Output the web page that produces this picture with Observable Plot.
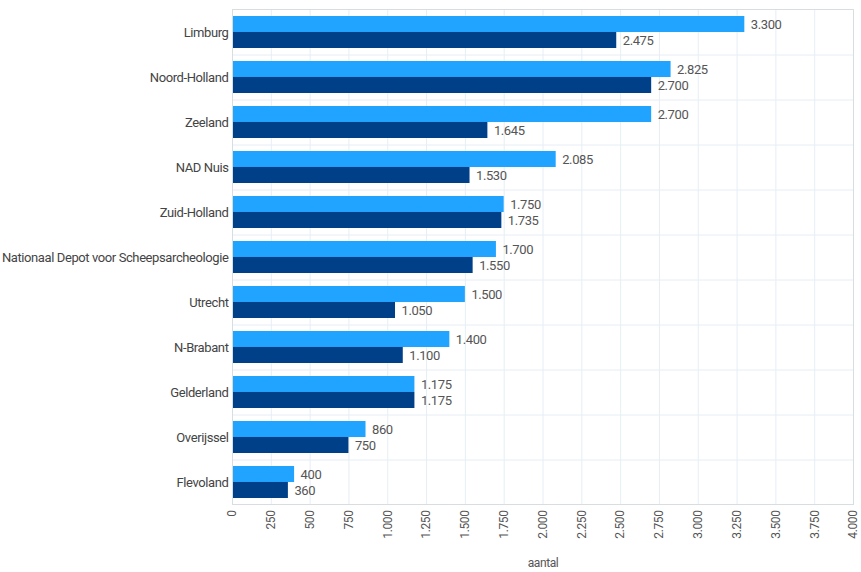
<!DOCTYPE html>
<html>
<head>
<meta charset="utf-8">
<script src="https://cdn.jsdelivr.net/npm/d3@7"></script>
<script src="https://cdn.jsdelivr.net/npm/@observablehq/plot@0.6"></script>
<style>
  html, body { margin: 0; padding: 0; background: #fff; }
  #chart svg { display: block; }
  #chart svg text { font-family: Roboto, 'Liberation Sans', sans-serif; letter-spacing: -0.4px; }
</style>
</head>
<body>
<div id="chart"></div>
<script>
const categories = ["Limburg","Noord-Holland","Zeeland","NAD Nuis","Zuid-Holland","Nationaal Depot voor Scheepsarcheologie","Utrecht","N-Brabant","Gelderland","Overijssel","Flevoland"];
const seriesLight = [3300, 2825, 2700, 2085, 1750, 1700, 1500, 1400, 1175, 860, 400];
const seriesDark  = [2475, 2700, 1645, 1530, 1735, 1550, 1050, 1100, 1175, 750, 360];
const xTicks = d3.range(0, 4001, 250);

const fmt = v => d3.format(",")(v).replace(/,/g, ".");
const light = categories.map((c, i) => ({cat: c, v: seriesLight[i]}));
const dark  = categories.map((c, i) => ({cat: c, v: seriesDark[i]}));

const W = 861, H = 572, mT = 9, mB = 68, mL = 232, mR = 8;
const pad = 0.29;
const step = (H - mT - mB) / categories.length;
const half = step * (1 - pad) / 2;

const chart = Plot.plot({
  width: W, height: H,
  marginTop: mT, marginBottom: mB, marginLeft: mL, marginRight: mR,
  style: {fontSize: "12px", color: "#555", background: "#fff"},
  x: {domain: [0, 4000], ticks: xTicks, tickFormat: fmt, label: "aantal", labelArrow: "none", labelAnchor: "center", labelOffset: 62, tickRotate: -90},
  y: {domain: categories, paddingInner: pad, paddingOuter: pad / 2, label: null},
  marks: [
    Plot.gridX(xTicks, {stroke: "#e6eef5", strokeOpacity: 1}),
    Plot.ruleY(categories.slice(0, -1), {stroke: "#e6eef5", dy: step / 2}),
    Plot.barX(light, {y: "cat", x: "v", fill: "#20a4ff", insetBottom: half}),
    Plot.barX(dark, {y: "cat", x: "v", fill: "#004089", insetTop: half}),
    Plot.text(light, {y: "cat", x: "v", text: d => fmt(d.v), textAnchor: "start", dx: 6, dy: -half / 2, fill: "#555", fontSize: 13}),
    Plot.text(dark, {y: "cat", x: "v", text: d => fmt(d.v), textAnchor: "start", dx: 6, dy: half / 2, fill: "#555", fontSize: 13}),
    Plot.frame({stroke: "#d8dde2"}),
    Plot.axisY({tickSize: 0, tickPadding: 4, fontSize: 13, fill: "#444", label: null}),
    Plot.axisX({ticks: xTicks, tickFormat: fmt, tickSize: 0, tickPadding: 6, tickRotate: -90, fontSize: 12, fill: "#555", label: "aantal", labelArrow: "none", labelAnchor: "center", labelOffset: 62})
  ]
});
document.getElementById("chart").appendChild(chart);
</script>
</body>
</html>
